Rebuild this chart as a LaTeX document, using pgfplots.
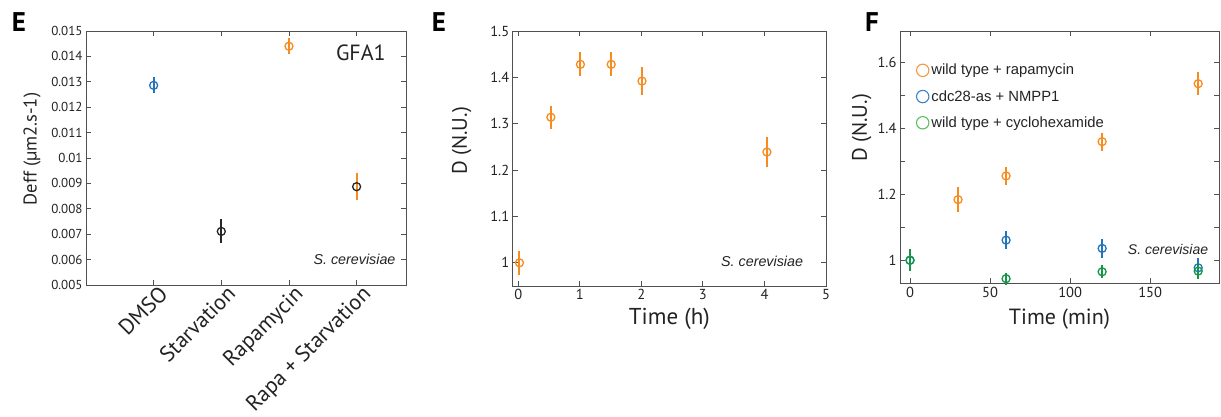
\documentclass[border=0pt]{standalone}
\usepackage{fontspec}
\setmainfont{PT Sans}
\newfontfamily\arialf{Liberation Sans}
\usepackage{pgfplots}
\pgfplotsset{compat=1.18}
\definecolor{morange}{RGB}{246,139,31}
\definecolor{mblue}{RGB}{35,117,187}
\definecolor{mgreen}{RGB}{20,150,70}
\definecolor{lorange}{RGB}{247,150,60}
\definecolor{lblue}{RGB}{60,130,200}
\definecolor{lgreen}{RGB}{90,190,90}
\definecolor{axgray}{RGB}{80,80,80}
\definecolor{txt}{RGB}{35,35,35}
\pgfplotsset{
 base/.style={scale only axis, clip=false,
   axis line style={axgray, line width=0.9pt},
   tick style={axgray, line width=0.9pt},
   tick align=inside, major tick length=5pt, minor tick length=5pt,
   ticklabel style={font=\fontsize{14.5}{16}\selectfont, text=txt},
   /pgf/number format/assume math mode=true,
   label style={text=txt}},
 pt/.style={only marks, mark=o, mark size=4pt, mark options={line width=1.3pt},
   error bars/y dir=both, error bars/y explicit, error bars/error mark=none,
   error bars/error bar style={line width=2pt}},
}
\begin{document}
\begin{tikzpicture}
\useasboundingbox (0pt,0pt) rectangle (1221pt,417pt);
\node[font=\bfseries\fontsize{27}{29}\selectfont, text=black] at (19pt,395pt) {E};
\node[font=\bfseries\fontsize{27}{29}\selectfont, text=black] at (439pt,395pt) {E};
\node[font=\bfseries\fontsize{27}{29}\selectfont, text=black] at (872pt,395pt) {F};
% y axis titles
\node[rotate=90, anchor=center, text=txt, font=\fontsize{18.5}{20}\selectfont] at (32pt,268pt) {Deff (µm2.s-1)};
\node[rotate=90, anchor=center, text=txt, font=\fontsize{21}{23}\selectfont] at (461.7pt,276pt) {D (N.U.)};
\node[rotate=90, anchor=center, text=txt, font=\fontsize{21}{23}\selectfont] at (861.7pt,289pt) {D (N.U.)};

% Panel 1
\begin{axis}[base, at={(86pt,132pt)}, anchor=south west, width=320pt, height=254pt,
  xmin=0, xmax=4.73, ymin=0.005, ymax=0.015, scaled y ticks=false,
  ticklabel style={font=\fontsize{13}{15}\selectfont},
  xtick={1,2,3,4}, xticklabels={DMSO,Starvation,Rapamycin,Rapa + Starvation},
  xticklabel style={rotate=45, anchor=north east, font=\fontsize{22}{24}\selectfont, xshift=7pt, yshift=1pt},
  ytick={0.005,0.006,0.007,0.008,0.009,0.01,0.011,0.012,0.013,0.014,0.015},
  yticklabels={0.005,0.006,0.007,0.008,0.009,0.01,0.011,0.012,0.013,0.014,0.015},
]
\addplot[pt, color=mblue] coordinates {(1,0.01286) +- (0,0.00031)};
\addplot[pt, color=black!85] coordinates {(2,0.00711) +- (0,0.00047)};
\addplot[pt, color=morange] coordinates {(3,0.0144) +- (0,0.00031)};
\addplot[pt, color=black!85, error bars/error bar style={morange, line width=2pt}] coordinates {(4,0.00887) +- (0,0.00052)};
\node[anchor=center, font=\fontsize{22}{24}\selectfont, text=txt] at (rel axis cs:0.859,0.913) {GFA1};
\node[anchor=east, font=\arialf\itshape\fontsize{14.3}{16}\selectfont, text=txt] at (rel axis cs:0.978,0.102) {S. cerevisiae};
\end{axis}

% Panel 2
\begin{axis}[base, at={(512.7pt,131pt)}, anchor=south west, width=313.3pt, height=255pt,
  xmin=-0.09, xmax=5, ymin=0.95, ymax=1.5,
  xtick={0,1,2,3,4,5}, ytick={1,1.1,1.2,1.3,1.4,1.5},
  xlabel={Time (h)},
  xlabel style={font=\fontsize{23}{25}\selectfont, at={(axis description cs:0.5,-0.13)}, anchor=center},
]
\addplot[pt, color=morange] coordinates {
 (0.02,1.0) +- (0,0.026)
 (0.53,1.314) +- (0,0.025)
 (1.01,1.428) +- (0,0.026)
 (1.51,1.428) +- (0,0.026)
 (2.01,1.392) +- (0,0.031)
 (4.04,1.239) +- (0,0.032)
};
\node[anchor=east, font=\arialf\itshape\fontsize{14.3}{16}\selectfont, text=txt] at (rel axis cs:0.938,0.095) {S. cerevisiae};
\end{axis}

% Panel 3
\begin{axis}[base, at={(900pt,133.7pt)}, anchor=south west, width=319pt, height=252.3pt,
  xmin=-6.25, xmax=193, ymin=0.93, ymax=1.696,
  xtick={0,50,100,150}, ytick={1,1.2,1.4,1.6}, minor ytick={1.1,1.3,1.5},
  xlabel={Time (min)},
  xlabel style={font=\fontsize{22}{24}\selectfont, at={(axis description cs:0.5,-0.143)}, anchor=center},
  legend style={draw=none, fill=none, at={(rel axis cs:0.04,0.885)}, anchor=north west,
    font=\arialf\fontsize{14.8}{17}\selectfont, text=txt, row sep=10pt,
    /tikz/every even column/.append style={column sep=4pt}},
  legend cell align=left,
]
\addlegendimage{legend image code/.code={\draw[line width=1.1pt, draw=lorange] (6pt,0pt) circle (6.2pt);}}
\addlegendentry{wild type + rapamycin}
\addlegendimage{legend image code/.code={\draw[line width=1.1pt, draw=lblue] (6pt,0pt) circle (6.2pt);}}
\addlegendentry{cdc28-as + NMPP1}
\addlegendimage{legend image code/.code={\draw[line width=1.1pt, draw=lgreen] (6pt,0pt) circle (6.2pt);}}
\addlegendentry{wild type + cyclohexamide}
\addplot[pt, color=morange, forget plot] coordinates {
 (30,1.184) +- (0,0.039)
 (60,1.256) +- (0,0.028)
 (120,1.36) +- (0,0.027)
 (180,1.536) +- (0,0.034)
};
\addplot[pt, color=mblue, forget plot] coordinates {
 (0,1.0) +- (0,0.03)
 (60,1.061) +- (0,0.027)
 (120,1.036) +- (0,0.03)
 (180,0.977) +- (0,0.03)
};
\addplot[pt, color=mgreen, forget plot] coordinates {
 (0,1.0) +- (0,0.033)
 (60,0.944) +- (0,0.018)
 (120,0.965) +- (0,0.02)
 (180,0.967) +- (0,0.025)
};
\node[anchor=east, font=\arialf\itshape\fontsize{14}{16}\selectfont, text=txt] at (rel axis cs:0.977,0.135) {S. cerevisiae};
\end{axis}
\end{tikzpicture}
\end{document}
